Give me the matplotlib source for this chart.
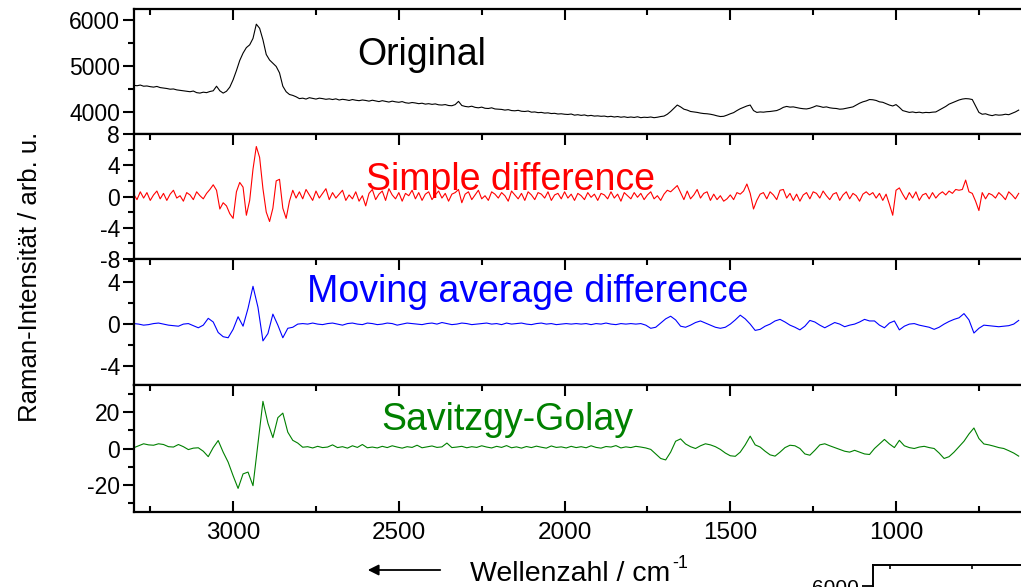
import numpy as np
import matplotlib
matplotlib.use("Agg")
import matplotlib.pyplot as plt
from matplotlib.ticker import MultipleLocator, FixedLocator
from matplotlib.patches import FancyArrowPatch

plt.rcParams['font.family'] = ['Liberation Sans', 'DejaVu Sans']
plt.rcParams['axes.unicode_minus'] = False

# ---------------- data ----------------
wn_fine = np.arange(3300, 625, -10)     # wavenumbers, cm^-1
wn_coarse = np.arange(3300, 625, -15)

original = [
    4580, 4570, 4585, 4560, 4565, 4550, 4540, 4555, 4530, 4520,
    4510, 4495, 4500, 4480, 4470, 4460, 4450, 4440, 4455, 4420,
    4410, 4430, 4420, 4445, 4460, 4560, 4460, 4410, 4450, 4540,
    4700, 4900, 5120, 5280, 5400, 5460, 5600, 5910, 5820, 5570,
    5250, 5130, 5060, 4990, 4850, 4560, 4440, 4380, 4360, 4330,
    4290, 4300, 4280, 4310, 4295, 4280, 4300, 4290, 4275, 4285,
    4270, 4285, 4260, 4275, 4265, 4250, 4270, 4255, 4245, 4260,
    4250, 4235, 4255, 4240, 4225, 4245, 4230, 4215, 4235, 4220,
    4210, 4225, 4200, 4190, 4205, 4195, 4180, 4190, 4170, 4180,
    4165, 4175, 4155, 4150, 4160, 4140, 4135, 4160, 4230, 4140,
    4120, 4110, 4125, 4100, 4090, 4105, 4080, 4075, 4090, 4065,
    4060, 4055, 4040, 4050, 4030, 4025, 4035, 4015, 4010, 4020,
    3995, 4000, 3985, 3990, 3975, 3980, 3965, 3970, 3955, 3960,
    3950, 3945, 3955, 3930, 3940, 3925, 3935, 3915, 3925, 3910,
    3915, 3905, 3910, 3895, 3905, 3890, 3900, 3885, 3895, 3880,
    3890, 3880, 3895, 3875, 3885, 3880, 3890, 3875, 3885, 3900,
    3910, 3950, 4010, 4080, 4150, 4110, 4060, 4040, 4010, 4000,
    3990, 3975, 3965, 3960, 3950, 3935, 3915, 3900, 3905, 3930,
    3960, 3985, 4030, 4070, 4100, 4130, 4150, 4030, 3990, 4000,
    3995, 4005, 4010, 4020, 4030, 4060, 4100, 4120, 4105, 4110,
    4095, 4080, 4070, 4065, 4080, 4105, 4135, 4120, 4100, 4110,
    4090, 4080, 4075, 4060, 4065, 4080, 4095, 4110, 4150, 4190,
    4220, 4240, 4270, 4265, 4250, 4220, 4210, 4180, 4150, 4130,
    4160, 4100, 4030, 4010, 3990, 4000, 3985, 3995, 3980, 3990,
    3985, 3995, 4000, 4040, 4080, 4120, 4170, 4200, 4230, 4260,
    4280, 4290, 4285, 4270, 4130, 3990, 3950, 3960, 3935, 3920,
    3940, 3930, 3935, 3950, 3940, 3970, 4000, 4040,
]

simple_difference = [
    0.3, -0.4, 0.6, -0.2, 0.5, -0.5, 0.2, 0.7, -0.3, 0.4,
    -0.5, 0.3, 0.8, -0.2, 0.1, -0.6, 0.5, 0.2, -0.4, 0.6,
    0.1, -0.3, 0.4, 0.9, 1.5, 0.8, -1.6, -0.8, -1.2, -2.2,
    -2.8, 0.6, 1.8, 1.2, -2.4, -0.5, 3.5, 6.4, 5.0, 1.0,
    -2.0, -3.2, -1.5, 2.0, 2.2, -1.5, -2.8, -0.6, 0.8, -0.2,
    0.6, -0.3, 0.9, 0.2, -0.5, 0.7, -0.2, 0.4, 1.0, -0.4,
    0.5, -0.2, 0.3, 0.8, -0.5, 0.2, -0.3, 0.6, -0.6, 0.1,
    -1.2, 0.4, 0.9, -0.4, 0.3, 0.7, -0.5, 1.0, 0.2, -0.3,
    0.5, -0.6, 0.4, 0.1, 0.8, -0.3, 0.5, -0.5, 0.3, 0.6,
    -0.4, 0.2, 0.7, -0.2, 0.4, -0.6, 0.3, 0.5, 0.9, -0.8,
    0.3, 0.6, -0.4, 0.2, 0.8, -0.3, 0.1, -0.5, 0.6, 0.3,
    -0.2, 0.5, 0.1, -0.6, 0.7, 0.2, -0.3, 0.4, -0.5, 0.6,
    0.2, -0.4, 0.5, 0.3, -0.2, 0.6, -0.5, 0.2, 0.4, -0.3,
    0.6, -0.2, 0.3, -0.5, 0.4, 0.1, -0.4, 0.5, -0.1, 0.3,
    -0.5, 0.4, 0.2, -0.3, 0.6, -0.2, 0.3, -0.6, 0.5, 0.1,
    -0.3, 0.5, -0.1, 0.4, -0.4, 0.2, 0.6, -0.3, 0.1, -0.5,
    0.3, 0.8, 0.6, 1.0, 1.4, 0.5, -0.4, 0.7, -0.3, 0.2,
    0.9, -0.2, 0.4, 0.6, -0.5, 0.3, -0.4, 0.1, -0.6, -0.3,
    0.2, -0.4, 0.5, 0.3, 0.7, 1.6, 0.4, -1.6, -0.5, 0.3,
    0.5, -0.3, 0.6, 0.2, -0.4, 0.8, 0.9, -0.2, 0.4, -0.5,
    0.3, -0.6, 0.2, 0.5, -0.3, 0.6, 0.4, -0.2, 0.7, 0.1,
    -0.4, 0.3, 0.5, -0.5, 0.2, 0.6, -0.3, 0.4, 0.1, -0.6,
    0.3, 0.6, 0.2, 0.5, -0.2, 0.4, -0.5, 0.3, -1.0, -2.4,
    0.8, 1.1, 0.3, -0.4, 0.5, -0.2, 0.6, -0.5, 0.2, 0.4,
    -0.3, 0.5, -0.2, 0.3, 0.6, 0.2, 0.7, 0.4, 0.9, 0.8,
    0.9, 2.1, 0.6, 0.4, -0.6, -1.8, 0.5, -0.3, 0.4, 0.2,
    -0.2, 0.5, 0.1, -0.4, 0.6, 0.2, -0.3, 0.4,
]

moving_average_difference = [
    0.05, 0.0, -0.1, -0.05, 0.05, 0.1, 0.0, -0.1, -0.15, -0.2,
    0.0, 0.05, -0.15, -0.35, -0.1, 0.55, 0.2, -0.8, -1.2, -1.3,
    -0.5, 0.7, -0.2, 1.5, 3.6, 1.6, -1.6, -0.9, 0.95, -0.1,
    -1.3, -0.4, -0.3, 0.0, 0.05, 0.0, 0.1, 0.0, -0.05, 0.05,
    0.1, 0.0, -0.1, 0.05, 0.1, 0.0, -0.05, 0.1, 0.05, -0.05,
    0.0, 0.1, 0.05, -0.1, 0.0, 0.1, 0.05, 0.0, -0.05, 0.05,
    0.1, 0.0, 0.15, 0.05, -0.05, 0.0, 0.1, 0.05, -0.05, 0.0,
    0.05, 0.1, 0.0, 0.05, -0.05, 0.1, 0.0, 0.05, 0.1, 0.0,
    -0.05, 0.05, 0.1, 0.0, 0.05, -0.05, 0.0, 0.05, 0.0, 0.05,
    0.0, 0.05, -0.05, 0.05, 0.0, 0.1, 0.0, -0.05, 0.05, 0.0,
    0.05, 0.0, 0.05, -0.1, -0.4, -0.3, 0.1, 0.5, 0.75, 0.4,
    -0.2, -0.3, -0.1, 0.15, 0.3, 0.1, -0.1, -0.3, -0.4, -0.3,
    0.0, 0.4, 0.85, 0.5, 0.0, -0.6, -0.5, -0.2, 0.0, 0.3,
    0.45, 0.2, -0.1, -0.3, -0.55, -0.2, 0.35, 0.2, -0.1, -0.35,
    -0.1, 0.15, 0.0, -0.25, -0.1, 0.0, 0.2, 0.45, 0.3, 0.3,
    -0.1, -0.35, 0.1, 0.3, -0.55, -0.2, 0.0, 0.05, -0.1, -0.2,
    -0.3, -0.5, -0.3, 0.0, 0.25, 0.45, 0.6, 1.0, 0.4, -0.85,
    -0.4, -0.1, -0.15, -0.2, -0.25, -0.2, -0.15, 0.0, 0.35,
]

savitzky_golay = [
    0.4, 1.5, 2.6, 2.0, 1.8, 2.6, 2.2, 1.0, 0.8, 2.2,
    1.0, -0.6, 0.2, 0.4, -1.5, -4.5, 0.5, 4.4, -2.0, -7.5,
    -15.0, -22.0, -14.0, -13.0, -20.5, 3.0, 26.0, 14.0, 6.0, 17.0,
    19.5, 9.0, 4.5, 3.0, 0.7, 1.0, 0.3, 1.2, 0.5, 0.8,
    2.0, 0.5, 1.0, 0.2, 1.5, 0.6, 2.2, 0.4, 0.8, 0.3,
    1.2, 0.5, 1.5, 0.8, 0.2, 1.0, 0.6, 1.8, 0.4, 0.9,
    1.4, 0.6, 0.9, 3.0, 0.5, 0.8, 1.2, 0.4, 1.0, 0.6,
    1.5, 0.8, 0.3, 1.2, 0.6, 1.6, 0.4, 0.9, 0.2, 1.1,
    0.5, 1.3, 0.7, 0.2, 1.4, 0.6, 0.9, 0.3, 1.2, 0.5,
    1.0, 0.4, 1.5, 0.6, 0.2, 1.1, 0.8, 1.6, 0.3, 0.9,
    0.5, 1.2, 0.8, 0.3, -0.5, -3.0, -5.5, -6.3, -2.0, 4.0,
    5.3, 2.5, 1.0, 0.0, 1.5, 2.6, 2.0, 1.0, -0.5, -2.5,
    -4.0, -4.3, -2.0, 2.0, 6.8, 2.0, 0.8, -1.5, -3.5, -4.2,
    -2.0, 0.5, 1.8, 1.5, 0.0, -3.0, -3.7, -1.0, 2.0, 2.6,
    1.5, 0.5, -0.5, -1.5, -2.0, -1.0, -2.0, -3.0, -3.3, 0.0,
    2.5, 5.0, 2.5, 0.5, 4.5, 1.5, 0.5, 0.0, 0.8, 1.2,
    0.5, 0.0, -2.5, -5.5, -4.5, -2.0, 1.0, 4.0, 8.0, 11.3,
    5.5, 2.5, 2.0, 1.3, 0.5, 0.0, -1.2, -2.5, -4.2,
]

panel_titles = ["Original", "Simple difference", "Moving average difference", "Savitzgy-Golay"]
panel_colors = ["black", "#ff0000", "#0000ff", "#008000"]
x_ticks = [3000, 2500, 2000, 1500, 1000]

assert len(original) == len(wn_fine) == len(simple_difference)
assert len(moving_average_difference) == len(wn_coarse) == len(savitzky_golay)

# ---------------- figure ----------------
W, H = 1021, 587
fig = plt.figure(figsize=(W / 100, H / 100), dpi=100)

def px_axes(top, bottom, left=134, right=W):
    return fig.add_axes([left / W, 1 - bottom / H, (right - left) / W, (bottom - top) / H])

bounds = [(9, 134), (134, 259), (259, 385), (385, 512)]
axes = [px_axes(t, b) for t, b in bounds]

series = [(wn_fine, original), (wn_fine, simple_difference),
          (wn_coarse, moving_average_difference), (wn_coarse, savitzky_golay)]
ylims = [(3520, 6240), (-8, 8), (-5.8, 6.2), (-35, 35)]
ymaj = [1000, 4, 4, 20]
ymin = [500, 2, 2, 10]
title_pos = [(422, 65), (510, 190), (528, 302), (507, 430)]

for i, ax in enumerate(axes):
    x, y = series[i]
    ax.plot(x, y, color=panel_colors[i], lw=0.8)
    ax.set_xlim(3299, 623)
    ax.set_ylim(*ylims[i])
    ax.yaxis.set_major_locator(MultipleLocator(ymaj[i]))
    ax.yaxis.set_minor_locator(MultipleLocator(ymin[i]))
    ax.xaxis.set_major_locator(FixedLocator(x_ticks + [500]))
    ax.xaxis.set_minor_locator(MultipleLocator(250))
    for s in ax.spines.values():
        s.set_linewidth(1.6)
    ax.spines['right'].set_visible(False)
    ax.tick_params(axis='y', which='both', direction='out', left=True, right=False,
                   labelsize=16.5, width=1.5, pad=2)
    ax.tick_params(axis='y', which='major', length=8)
    ax.tick_params(axis='y', which='minor', length=4.5)
    last = (i == 3)
    ax.tick_params(axis='x', which='both', direction='in', top=True, bottom=last,
                   labelbottom=last, labeltop=False, width=1.5, labelsize=17.5, pad=7)
    ax.tick_params(axis='x', which='major', length=8)
    ax.tick_params(axis='x', which='minor', length=4.5)
    tx, ty = title_pos[i]
    fig.text(tx / W, 1 - ty / H, panel_titles[i], color=panel_colors[i],
             fontsize=27, ha='center', va='baseline')

# y tick label sets as in the reference
axes[0].set_yticks([4000, 5000, 6000])
axes[1].set_yticks([-8, -4, 0, 4, 8])
axes[2].set_yticks([-4, 0, 4])
axes[3].set_yticks([-20, 0, 20])

# axis labels
fig.text(30 / W, 1 - 277 / H, "Raman-Intensität / arb. u.", rotation=90,
         ha='center', va='center', fontsize=18.5)
xl = fig.text(470 / W, 1 - 581 / H, "Wellenzahl / cm",
              ha='left', va='baseline', fontsize=20.5)
renderer = fig.canvas.get_renderer()
bb = xl.get_window_extent(renderer=renderer)
fig.text((bb.x1 + 2) / W, 1 - 568 / H, "-1", ha='left', va='baseline', fontsize=13)
fig.add_artist(FancyArrowPatch((443 / W, 1 - 570 / H), (365 / W, 1 - 570 / H),
                               transform=fig.transFigure, arrowstyle='-|>',
                               mutation_scale=16, lw=1.3, color='black'))

# partial view of a following chart at the bottom right edge
axb = fig.add_axes([873 / W, -0.2, (W - 873) / W, 0.2 + (1 - 565 / H)])
axb.set_xlim(0, W - 873)
axb.set_ylim(3500, 6445)
axb.set_yticks([6000])
axb.set_xticks([17, 99])
axb.spines['right'].set_visible(False)
axb.spines['bottom'].set_visible(False)
for s in axb.spines.values():
    s.set_linewidth(1.4)
axb.tick_params(axis='y', direction='out', length=8, width=1.3, labelsize=15, pad=2)
axb.tick_params(axis='x', direction='in', top=True, bottom=False, labelbottom=False,
                length=3, width=1.2)

fig.savefig("out.png", dpi=100)
